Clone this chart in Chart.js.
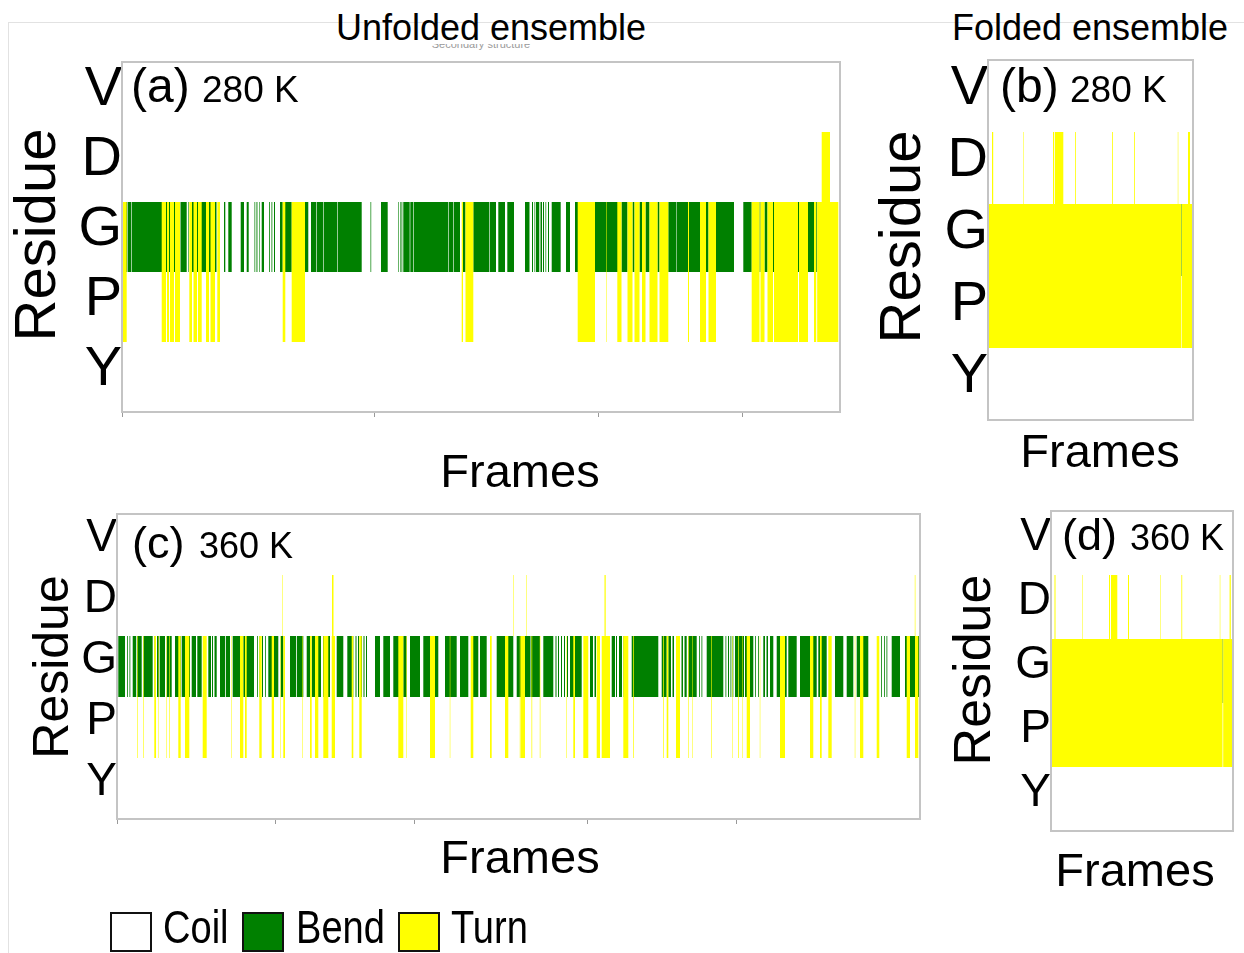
<!DOCTYPE html>
<html>
<head>
<meta charset="utf-8">
<script src="https://cdn.jsdelivr.net/npm/chart.js@4.4.1/dist/chart.umd.min.js"></script>
<style>
  html, body { margin: 0; padding: 0; background: #fff; }
  body { width: 1244px; height: 953px; position: relative; overflow: hidden; font-family: 'Liberation Sans', Arial, sans-serif; }
  canvas { position: absolute; left: 0; top: 0; }
  .frame { position: absolute; left: 8px; top: 22px; right: 0; bottom: 0; border-top: 1px solid #e2e2e2; border-left: 1px solid #e2e2e2; }
  .title { position: absolute; top: 10px; font-size: 36px; line-height: 36px; white-space: nowrap; transform: translateX(-50%); }
  .sub { position: absolute; left: 381px; top: 44px; width: 200px; height: 6px; overflow: hidden; }
  .sub span { position: absolute; left: 0; width: 200px; top: -5px; text-align: center; font-size: 11px; line-height: 11px; color: #9a9a9a; }
  .lg-box { position: absolute; top: 912px; width: 42px; height: 40px; box-sizing: border-box; border: 2.5px solid #111; }
  .lg-text { position: absolute; top: 903px; font-size: 47px; line-height: 47px; white-space: nowrap; transform: scaleX(0.81); transform-origin: 0 0; }
</style>
</head>
<body>
<div class="frame"></div>
<div class="title" style="left:491px">Unfolded ensemble</div>
<div class="title" style="left:1090px">Folded ensemble</div>
<div class="sub"><span>Secondary structure</span></div>
<canvas id="panelA" width="1244" height="953"></canvas>
<canvas id="panelB" width="1244" height="953"></canvas>
<canvas id="panelC" width="1244" height="953"></canvas>
<canvas id="panelD" width="1244" height="953"></canvas>
<div id="legend"></div>
<script>
// residues along the y axis, states in the legend
const residues = ['V', 'D', 'G', 'P', 'Y']
const states = ['Coil', 'Bend', 'Turn']
const stateColors = ['#ffffff', '#008000', '#ffff00']

// frame ranges [start, end] per state; turns span residues G and P, turnD marks residue D

// (a) unfolded, 280 K
const unfolded280Frames = 718
const unfolded280Ticks = [0, 252, 476, 620]
const unfolded280Bend = [
  [0, 5], [5.6, 9.4], [10, 58.5], [59, 64.7], [66, 66.6], [68, 94.5], [102, 103.3], [106.3, 109.7],
  [118.7, 122], [124.7, 126.7], [132.5, 133.2], [134.5, 135.4], [137, 137.6], [139.7, 142],
  [147, 147.8], [149.5, 150.3], [152, 153], [158, 160.7], [163, 169.7], [183, 186.3], [189, 194.4],
  [195, 201], [201.6, 215], [215.6, 239.7], [248.5, 249.2], [259, 265.7], [276, 276.6], [278, 278.6],
  [279.5, 280.3], [281.3, 287.7], [288.3, 291], [291.6, 326], [326.6, 331], [331.6, 338], [340.5, 343.5],
  [351.3, 367], [367.6, 374], [376.3, 383], [385.3, 392], [403, 407.5], [410, 411], [412.5, 413.2],
  [414, 417.3], [418.5, 420], [421, 422], [423.5, 424.2], [426, 427], [429.7, 438.7], [444, 448],
  [453, 496.3], [499.5, 505.5], [510.5, 512.5], [517.5, 520], [523.5, 527.5], [535.5, 537.5],
  [546.3, 554.5], [555, 578], [584, 586.5], [594, 612], [621.3, 629.7], [637.5, 638.5], [642.5, 645.5],
  [651, 652], [676, 677], [686, 692], [694.2, 695.2],
]
const unfolded280Turn = [
  [0.7, 4.7], [39.7, 44], [45, 47], [48, 52], [53, 58], [67.3, 70], [71.5, 75], [76, 79.7], [84, 87],
  [88.5, 93], [95.3, 98], [160.7, 163.3], [169.7, 183], [339.7, 341], [343.5, 351.3], [455.7, 473],
  [484.5, 485], [495.3, 499.5], [505.5, 510.5], [512.5, 517.5], [520, 523.5], [527.5, 535.5],
  [537.5, 546.3], [566, 567], [578, 584], [586.5, 594], [629.7, 637.5], [638.5, 642.5], [645.5, 651],
  [652, 676], [677, 686], [692, 694.2], [695.2, 716.3],
]
const unfolded280TurnD = [[699.7, 708]]

// (b) folded, 280 K
const folded280Frames = 205
const folded280Ticks = []
const folded280Bend = [[193, 193.6]]
const folded280Turn = [[0, 193], [193.6, 205]]
const folded280TurnD = [
  [4, 5.2], [35, 35.5], [65, 66.2], [67, 75.3], [87, 87.8], [124, 124.8], [146, 146.8], [189.8, 190.3], [200, 202],
]

// (c) unfolded, 360 K
const unfolded360Frames = 803
const unfolded360Ticks = [0, 158, 297, 470, 619]
const unfolded360Bend = [
  [1.3, 8], [10, 10.8], [12.5, 13.3], [15.7, 19], [19.8, 24.7], [26.3, 35.7], [37.5, 38.3], [40, 42.3],
  [43, 48], [49.7, 54.7], [58, 63.7], [64.7, 73], [74.7, 79], [80.3, 84.7], [91.3, 94], [95, 96],
  [97.5, 99.7], [103, 108], [108.8, 113], [115.7, 124.7], [126.3, 137], [140, 140.8], [142.5, 143.3],
  [145, 146], [148, 148.8], [151.3, 161.3], [163.7, 166.3], [173, 179], [179.8, 186.3], [189.7, 193],
  [194.7, 198], [200, 204], [206, 213], [219.7, 226.3], [230.3, 236.3], [238.5, 239.5], [241, 242],
  [243.5, 245], [246.5, 247.5], [249, 250], [258, 263], [266.3, 273], [276.3, 283], [286.3, 289.7],
  [293, 303], [306.3, 313], [314.7, 321.3], [328, 339.7], [343, 351.3], [354.7, 361.3], [363, 369.7],
  [379.7, 396.3], [399.7, 413], [413.5, 423], [426.3, 436.3], [438.5, 439.5], [441, 442], [444, 445],
  [447, 448], [450, 451], [453, 464.7], [473, 476], [477.5, 479], [480.5, 483], [494.7, 498], [499, 500],
  [502, 505], [506.5, 509.7], [514.7, 541.3], [544.7, 549.7], [551.3, 554], [555.5, 557], [559, 563],
  [564.5, 566], [567.5, 569.7], [571.3, 579.7], [582, 582.8], [584.5, 585.3], [589.7, 606.3],
  [608.5, 609.3], [611, 612], [613.5, 614.3], [615.5, 616.3], [618, 627], [628, 636.3], [638, 638.8],
  [641, 641.8], [646.3, 648], [649.5, 651], [653, 656.3], [659.7, 669.7], [671.3, 679.7], [683, 699.7],
  [701.3, 709.7], [718, 726.3], [729.7, 736.3], [739.7, 751.3], [764, 764.8], [767, 767.8],
  [769.5, 770.3], [774.7, 783], [788, 803],
]
const unfolded360Turn = [
  [20, 20.6], [26, 26.6], [37.3, 39], [41.1, 41.6], [49.5, 50], [52, 52.6], [61.3, 63.7], [68, 72.3],
  [85.7, 89.7], [114.5, 115], [123, 126.3], [128, 129.7], [142.3, 144.7], [154.7, 157], [163.5, 164],
  [166.3, 168], [185.5, 186], [193, 194.7], [198, 201.3], [206.3, 211.3], [214.7, 218], [234.7, 236.3],
  [242.3, 244.7], [281.3, 286.3], [289.5, 290], [313, 318], [332.8, 333.3], [353.7, 356.3], [373, 374.7],
  [388, 391.3], [402.8, 403.3], [403.5, 408], [414.5, 415.2], [422.8, 423.4], [449.5, 450], [456.3, 458],
  [466.3, 471.3], [479.7, 483], [484.7, 493], [506.3, 511.3], [516, 516.7], [546, 546.7], [549.7, 551.3],
  [559, 563], [571, 571.6], [575.5, 576], [594.4, 595], [615.5, 616], [621, 621.7], [625.5, 626],
  [629.7, 633], [642.8, 643.3], [663, 668], [693, 696.3], [703, 704.7], [711.3, 714.7], [737.8, 738.3],
  [743, 746.3], [759.7, 762.3], [789.7, 793], [798, 801.3],
]
const unfolded360TurnD = [[165.5, 166], [215, 216.5], [396, 396.5], [409.5, 410], [487.5, 488.7], [797.8, 798.4]]

// (d) folded, 360 K
const folded360Frames = 182
const folded360Ticks = []
const folded360Bend = [[171.5, 172.2]]
const folded360Turn = [[0, 171.5], [172.2, 182]]
const folded360TurnD = [
  [3.5, 4.5], [31.5, 32], [58, 59], [60, 66.3], [77, 78], [109.5, 110], [130.4, 131.2], [168.8, 169.3], [178.6, 179.8],
]

const W = 1244
const H = 953
const FONT = '"Liberation Sans", Arial, sans-serif'

function bars(intervals, rows) {
  const out = []
  for (const r of rows) for (const [s, e] of intervals) out.push({ y: r, x: [s, e] })
  return out
}

function textPlugin(items) {
  return {
    id: 'panelText',
    afterDraw(chart) {
      const { ctx } = chart
      for (const t of items) {
        ctx.save()
        ctx.font = `${t.size}px ${FONT}`
        ctx.fillStyle = '#000'
        ctx.textAlign = t.align || 'left'
        ctx.textBaseline = t.rot ? 'middle' : 'alphabetic'
        ctx.translate(t.x, t.y)
        if (t.rot) ctx.rotate(-Math.PI / 2)
        ctx.fillText(t.text, 0, 0)
        ctx.restore()
      }
    },
  }
}

const boxPlugin = {
  id: 'panelBox',
  afterDatasetsDraw(chart) {
    const { ctx, chartArea: a } = chart
    ctx.save()
    ctx.strokeStyle = '#c4c4c4'
    ctx.lineWidth = 2
    ctx.strokeRect(a.left, a.top, a.right - a.left, a.bottom - a.top)
    ctx.restore()
  },
}

function makePanel(id, p) {
  const yw = 90
  const xh = 10
  return new Chart(document.getElementById(id), {
    type: 'bar',
    data: {
      labels: residues,
      datasets: [
        // first dataset is painted last, so turns sit on top of bends
        { label: states[2], data: bars(p.turn, ['G', 'P']).concat(bars(p.turnD, ['D'])), backgroundColor: stateColors[2] },
        { label: states[1], data: bars(p.bend, ['G']), backgroundColor: stateColors[1] },
      ],
    },
    options: {
      indexAxis: 'y',
      responsive: false,
      animation: false,
      events: [],
      devicePixelRatio: 1,
      layout: { padding: { left: p.area[0] - yw, top: p.area[1], right: W - p.area[2], bottom: H - p.area[3] - xh } },
      datasets: { bar: { grouped: false, categoryPercentage: 1, barPercentage: 1, borderWidth: 0, inflateAmount: 0 } },
      scales: {
        y: {
          type: 'category',
          labels: residues,
          offset: true,
          grid: { display: false, drawTicks: false },
          border: { display: false },
          ticks: { color: '#000', padding: 0, autoSkip: false, labelOffset: p.labelOffset, font: { family: FONT, size: p.tickSize } },
          afterFit(s) { s.width = yw },
        },
        x: {
          type: 'linear',
          min: 0,
          max: p.frames,
          grid: { display: true, drawOnChartArea: false, drawTicks: true, tickLength: 5, color: '#999' },
          border: { display: false },
          ticks: { display: false },
          afterBuildTicks(s) { s.ticks = p.ticks.map(v => ({ value: v })) },
          afterFit(s) { s.height = xh },
        },
      },
      plugins: { legend: { display: false }, tooltip: { enabled: false } },
    },
    plugins: [boxPlugin, textPlugin(p.texts)],
  })
}

makePanel('panelA', {
  area: [122, 62, 840, 412], frames: unfolded280Frames, ticks: unfolded280Ticks,
  bend: unfolded280Bend, turn: unfolded280Turn, turnD: unfolded280TurnD,
  tickSize: 56, labelOffset: -7,
  texts: [
    { text: '(a)', x: 131, y: 102, size: 48 },
    { text: '280 K', x: 202, y: 102, size: 37 },
    { text: 'Residue', x: 39, y: 235, size: 58, rot: true, align: 'center' },
    { text: 'Frames', x: 520, y: 487, size: 47, align: 'center' },
  ],
})

makePanel('panelB', {
  area: [988, 60, 1193, 420], frames: folded280Frames, ticks: folded280Ticks,
  bend: folded280Bend, turn: folded280Turn, turnD: folded280TurnD,
  tickSize: 56, labelOffset: -7,
  texts: [
    { text: '(b)', x: 1000, y: 102, size: 48 },
    { text: '280 K', x: 1070, y: 102, size: 37 },
    { text: 'Residue', x: 904, y: 237, size: 58, rot: true, align: 'center' },
    { text: 'Frames', x: 1100, y: 467, size: 47, align: 'center' },
  ],
})

makePanel('panelC', {
  area: [117, 514, 920, 819], frames: unfolded360Frames, ticks: unfolded360Ticks,
  bend: unfolded360Bend, turn: unfolded360Turn, turnD: unfolded360TurnD,
  tickSize: 46, labelOffset: -6,
  texts: [
    { text: '(c)', x: 132, y: 558, size: 45 },
    { text: '360 K', x: 199, y: 558, size: 36 },
    { text: 'Residue', x: 54, y: 667, size: 50, rot: true, align: 'center' },
    { text: 'Frames', x: 520, y: 873, size: 47, align: 'center' },
  ],
})

makePanel('panelD', {
  area: [1051, 511, 1233, 831], frames: folded360Frames, ticks: folded360Ticks,
  bend: folded360Bend, turn: folded360Turn, turnD: folded360TurnD,
  tickSize: 46, labelOffset: -6,
  texts: [
    { text: '(d)', x: 1062, y: 550, size: 45 },
    { text: '360 K', x: 1130, y: 550, size: 36 },
    { text: 'Residue', x: 976, y: 670, size: 52, rot: true, align: 'center' },
    { text: 'Frames', x: 1135, y: 886, size: 47, align: 'center' },
  ],
})

// legend: Coil / Bend / Turn swatches along the bottom
const legendBoxes = [110, 242, 398]
const legendTexts = [163, 296, 451]
const legend = document.getElementById('legend')
states.forEach((s, i) => {
  const box = document.createElement('div')
  box.className = 'lg-box'
  box.style.left = legendBoxes[i] + 'px'
  box.style.background = stateColors[i]
  legend.appendChild(box)
  const label = document.createElement('div')
  label.className = 'lg-text'
  label.style.left = legendTexts[i] + 'px'
  label.textContent = s
  legend.appendChild(label)
})
</script>
</body>
</html>
